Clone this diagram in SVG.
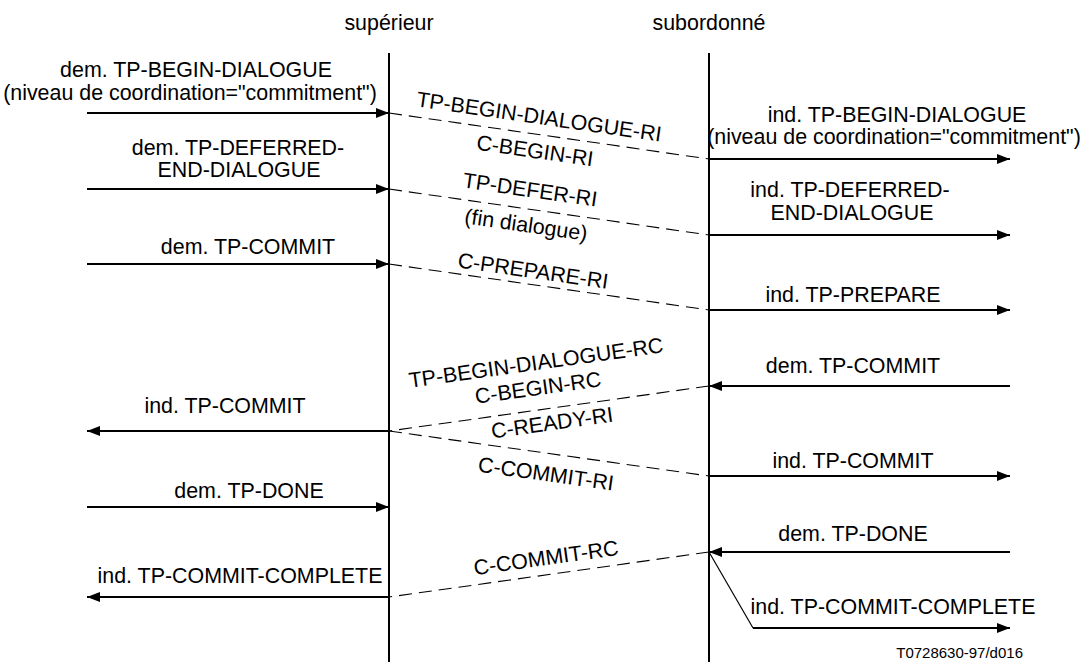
<svg xmlns="http://www.w3.org/2000/svg" width="1090" height="662" viewBox="0 0 1090 662">
<style>
text{font-family:"Liberation Sans",Arial,sans-serif;font-size:21.4px;fill:#000;text-anchor:middle}
.life{stroke:#000;stroke-width:2;fill:none}
.msg{stroke:#000;stroke-width:2;fill:none}
.dash{stroke:#000;stroke-width:1.1;fill:none;stroke-dasharray:13 7}
.thin{stroke:#000;stroke-width:1.2;fill:none}
.ref{font-size:15px;text-anchor:end}
</style>
<defs>
<marker id="ah" markerUnits="userSpaceOnUse" markerWidth="13" markerHeight="10" refX="13" refY="5" orient="auto">
<path d="M0,0 L13,5 L0,10 z" fill="#000"/>
</marker>
</defs>
<rect width="1090" height="662" fill="#fff"/>
<g id="superieur">
<text x="389" y="30">supérieur</text>
<line class="life" x1="389" y1="53" x2="389" y2="662"/>
</g>
<g id="subordonne">
<text x="709" y="30">subordonné</text>
<line class="life" x1="709" y1="53" x2="709" y2="662"/>
</g>
<g id="connectors">
<line class="msg" x1="87" y1="113" x2="389" y2="113" marker-end="url(#ah)"/>
<line class="msg" x1="87" y1="189" x2="389" y2="189" marker-end="url(#ah)"/>
<line class="msg" x1="87" y1="264" x2="389" y2="264" marker-end="url(#ah)"/>
<line class="msg" x1="389" y1="431" x2="87" y2="431" marker-end="url(#ah)"/>
<line class="msg" x1="87" y1="507" x2="389" y2="507" marker-end="url(#ah)"/>
<line class="msg" x1="389" y1="597" x2="87" y2="597" marker-end="url(#ah)"/>
<line class="msg" x1="709" y1="159" x2="1010" y2="159" marker-end="url(#ah)"/>
<line class="msg" x1="709" y1="235" x2="1010" y2="235" marker-end="url(#ah)"/>
<line class="msg" x1="709" y1="310" x2="1010" y2="310" marker-end="url(#ah)"/>
<line class="msg" x1="1010" y1="386" x2="709" y2="386" marker-end="url(#ah)"/>
<line class="msg" x1="709" y1="476" x2="1010" y2="476" marker-end="url(#ah)"/>
<line class="msg" x1="1010" y1="552" x2="709" y2="552" marker-end="url(#ah)"/>
<line class="thin" x1="709" y1="552" x2="753" y2="628"/>
<line class="msg" x1="753" y1="628" x2="1010" y2="628" marker-end="url(#ah)"/>
<line class="dash" x1="389" y1="113" x2="709" y2="159"/>
<line class="dash" x1="389" y1="189" x2="709" y2="235"/>
<line class="dash" x1="389" y1="264" x2="709" y2="310"/>
<line class="dash" x1="709" y1="386" x2="389" y2="431"/>
<line class="dash" x1="389" y1="431" x2="709" y2="476"/>
<line class="dash" x1="709" y1="552" x2="389" y2="597"/>
</g>
<g id="labels">
<text x="196" y="77">dem. TP-BEGIN-DIALOGUE</text>
<text x="190" y="100">(niveau de coordination="commitment")</text>
<text x="238" y="155">dem. TP-DEFERRED-</text>
<text x="239" y="177">END-DIALOGUE</text>
<text x="248" y="254">dem. TP-COMMIT</text>
<text x="225" y="413">ind. TP-COMMIT</text>
<text x="249" y="498">dem. TP-DONE</text>
<text x="240" y="583">ind. TP-COMMIT-COMPLETE</text>
<text x="897" y="122">ind. TP-BEGIN-DIALOGUE</text>
<text x="894" y="144">(niveau de coordination="commitment")</text>
<text x="850" y="197">ind. TP-DEFERRED-</text>
<text x="852" y="220">END-DIALOGUE</text>
<text x="853" y="302">ind. TP-PREPARE</text>
<text x="853" y="373">dem. TP-COMMIT</text>
<text x="853" y="468">ind. TP-COMMIT</text>
<text x="853" y="541">dem. TP-DONE</text>
<text x="893" y="614">ind. TP-COMMIT-COMPLETE</text>
<text class="ref" x="1023" y="658">T0728630-97/d016</text>
<text transform="translate(538,124) rotate(8.2)">TP-BEGIN-DIALOGUE-RI</text>
<text transform="translate(534,158) rotate(8.2)">C-BEGIN-RI</text>
<text transform="translate(529,197) rotate(8.2)">TP-DEFER-RI</text>
<text transform="translate(525,232) rotate(8.2)">(fin dialogue)</text>
<text transform="translate(532,278) rotate(8.2)">C-PREPARE-RI</text>
<text transform="translate(537,370) rotate(-8)">TP-BEGIN-DIALOGUE-RC</text>
<text transform="translate(539,395) rotate(-8)">C-BEGIN-RC</text>
<text transform="translate(553,430) rotate(-8)">C-READY-RI</text>
<text transform="translate(545,481) rotate(8)">C-COMMIT-RI</text>
<text transform="translate(547,565) rotate(-8)">C-COMMIT-RC</text>
</g>
</svg>
